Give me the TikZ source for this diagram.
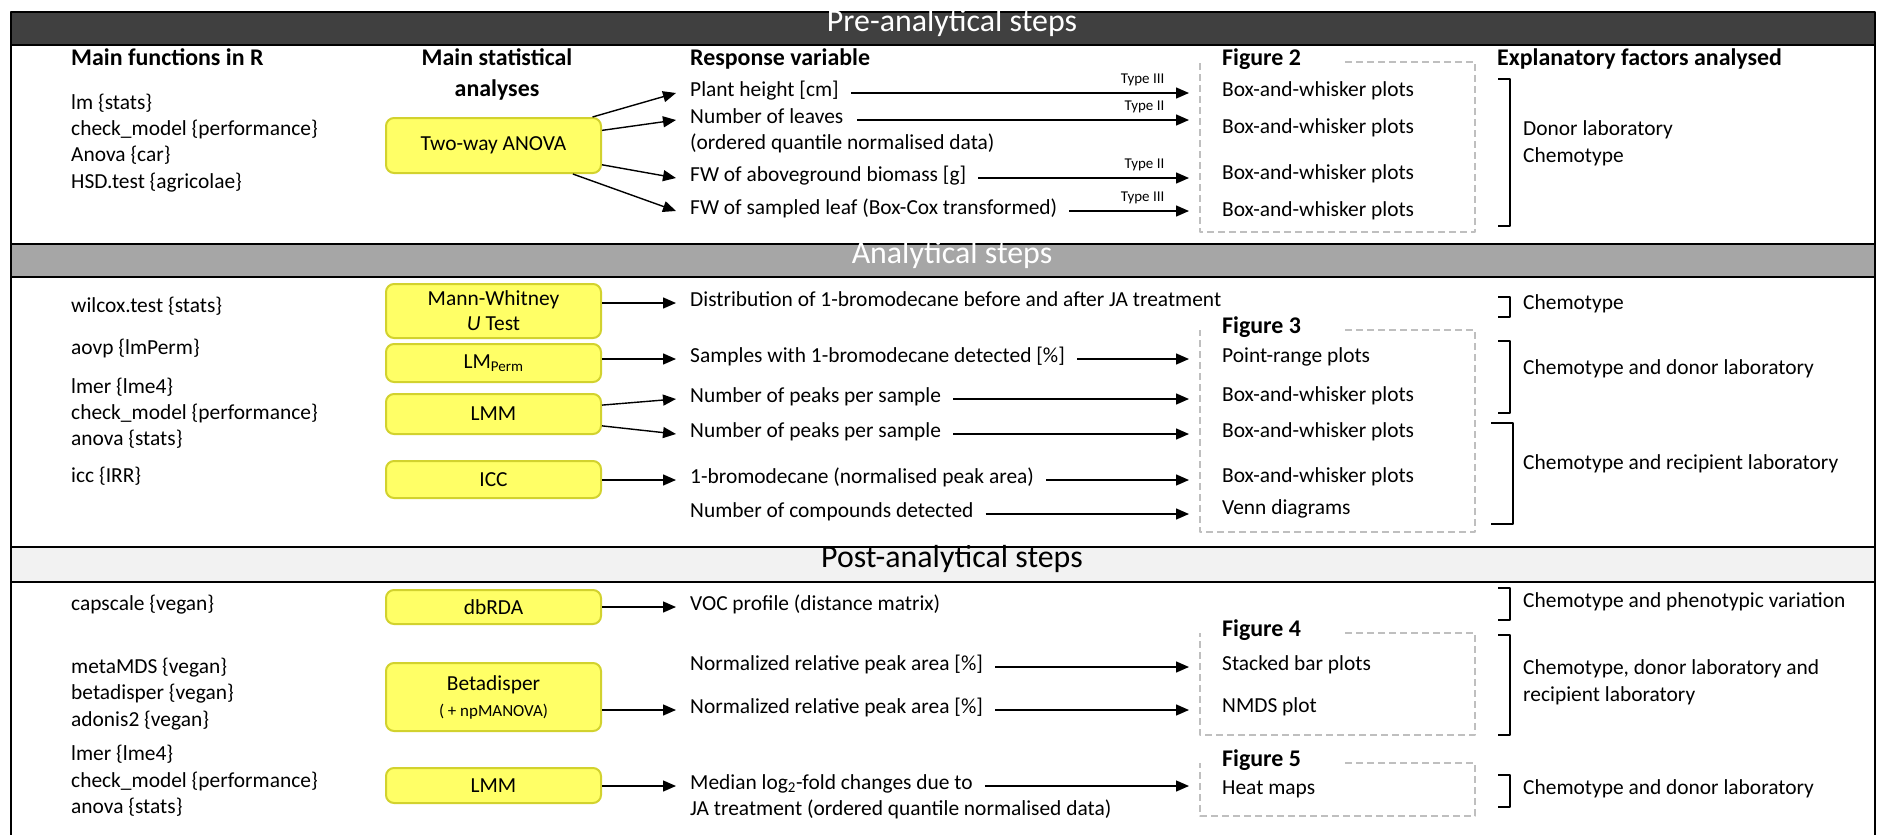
\documentclass[tikz,border=0pt]{standalone}
\usepackage{fontspec}
\setmainfont{Carlito}
\usetikzlibrary{arrows.meta}
\definecolor{bandA}{HTML}{404040}
\definecolor{bandB}{HTML}{A6A6A6}
\definecolor{bandC}{HTML}{F2F2F2}
\definecolor{boxfill}{HTML}{FFFF66}
\definecolor{boxline}{HTML}{D2D22E}
\definecolor{dashgrey}{HTML}{BFBFBF}
\begin{document}
\begin{tikzpicture}[x=1bp,y=-1bp,line join=round,
	lbl/.style={anchor=west,inner sep=0pt,text height=0.7em,text depth=0.05em,font=\fontsize{21.5}{26}\selectfont},
	hdr/.style={lbl,font=\bfseries\fontsize{24}{28}\selectfont},
	bandtitle/.style={inner sep=0pt,text height=0.7em,text depth=0.05em,font=\fontsize{32}{36}\selectfont},
	statbox/.style={draw=boxline,fill=boxfill,line width=2bp,rounded corners=8bp,minimum width=215bp,inner sep=0pt,align=center,font=\fontsize{21.5}{25}\selectfont},
	arr/.style={-{Triangle[length=13bp,width=11bp]},line width=1.4bp},
	typelab/.style={inner sep=0pt,anchor=south east,xshift=-24bp,yshift=6bp,font=\fontsize{15}{17}\selectfont},
	figbox/.style={draw=dashgrey,line width=1.8bp,dash pattern=on 7bp off 4bp},
	brack/.style={line width=2.4bp}]
	\useasboundingbox (0,0) rectangle (1878,835);
	% bands and frame
	\fill[bandA] (11,12) rectangle (1875,45);
	\fill[bandB] (11,244) rectangle (1875,277);
	\fill[bandC] (11,547) rectangle (1875,582);
	\draw[line width=2.5bp] (11,845) -- (11,12) -- (1875,12) -- (1875,845);
	\foreach \y in {45,244,277,547,582} \draw[line width=2.5bp] (11,\y) -- (1875,\y);
	\node[bandtitle,text=white] (pre) at (952,28.5) {Pre-analytical steps};
	\node[bandtitle,text=white] (ana) at (952,260.5) {Analytical steps};
	\node[bandtitle] (post) at (952,564.5) {Post-analytical steps};
	% headers
	\node[hdr] (hfun) at (71,62) {Main functions in R};
	\node[hdr,anchor=center] (hsta) at (497,62) {Main statistical};
	\node[hdr,anchor=center] (hsta2) at (497,93) {analyses};
	\node[hdr] (hres) at (690,62) {Response variable};
	\node[hdr] (hexp) at (1497,62) {Explanatory factors analysed};
	% functions in R
	\foreach \n/\y/\t in {1/106/{lm \{stats\}},2/132/{check\_model \{performance\}},3/158/{Anova \{car\}},4/185/{HSD.test \{agricolae\}},
		5/309/{wilcox.test \{stats\}},6/351/{aovp \{lmPerm\}},7/390/{lmer \{lme4\}},8/416/{check\_model \{performance\}},9/442/{anova \{stats\}},10/479/{icc \{IRR\}},
		11/607/{capscale \{vegan\}},12/670/{metaMDS \{vegan\}},13/696/{betadisper \{vegan\}},14/723/{adonis2 \{vegan\}},15/757/{lmer \{lme4\}},16/784/{check\_model \{performance\}},17/810/{anova \{stats\}}}
		\node[lbl] (fn\n) at (71,\y) {\t};
	% statistical analyses
	\node[statbox,minimum height=55bp] (twa) at (493.5,145.5) {Two-way ANOVA};
	\node[statbox,minimum height=54bp] (mwu) at (493.5,311) {Mann-Whitney\\\textit{U} Test};
	\node[statbox,minimum height=38bp] (lmp) at (493.5,363) {LM\textsubscript{Perm}};
	\node[statbox,minimum height=40bp] (lmmA) at (493.5,414) {LMM};
	\node[statbox,minimum height=37bp] (icc) at (493.5,479.5) {ICC};
	\node[statbox,minimum height=34bp] (dbrda) at (493.5,607) {dbRDA};
	\node[statbox,minimum height=68bp] (betad) at (493.5,697) {Betadisper\\[1bp]{\fontsize{17}{20}\selectfont ( + npMANOVA)}};
	\node[statbox,minimum height=35bp] (lmmB) at (493.5,785.5) {LMM};
	% response variables
	\node[lbl] (ph) at (690,93) {Plant height [cm]};
	\node[lbl] (nl) at (690,120) {Number of leaves};
	\node[lbl] (nl2) at (690,146) {(ordered quantile normalised data)};
	\node[lbl] (fwa) at (690,178) {FW of aboveground biomass [g]};
	\node[lbl] (fws) at (690,211) {FW of sampled leaf (Box-Cox transformed)};
	\node[lbl] (dist) at (690,303) {Distribution of 1-bromodecane before and after JA treatment};
	\node[lbl] (samp) at (690,359) {Samples with 1-bromodecane detected [\%]};
	\node[lbl] (np1) at (690,399) {Number of peaks per sample};
	\node[lbl] (np2) at (690,434) {Number of peaks per sample};
	\node[lbl] (brom) at (690,480) {1-bromodecane (normalised peak area)};
	\node[lbl] (ncomp) at (690,514) {Number of compounds detected};
	\node[lbl] (voc) at (690,607) {VOC profile (distance matrix)};
	\node[lbl] (nrp1) at (690,667) {Normalized relative peak area [\%]};
	\node[lbl] (nrp2) at (690,710) {Normalized relative peak area [\%]};
	\node[lbl] (med) at (690,786) {Median log\textsubscript{2}-fold changes due to};
	\node[lbl] (med2) at (690,812) {JA treatment (ordered quantile normalised data)};
	% figures
	\node[hdr] (fig2) at (1222,62) {Figure 2};
	\node[lbl] (bw1) at (1222,93) {Box-and-whisker plots};
	\node[lbl] (bw2) at (1222,130) {Box-and-whisker plots};
	\node[lbl] (bw3) at (1222,176) {Box-and-whisker plots};
	\node[lbl] (bw4) at (1222,213) {Box-and-whisker plots};
	\node[hdr] (fig3) at (1222,330) {Figure 3};
	\node[lbl] (pr) at (1222,359) {Point-range plots};
	\node[lbl] (bw5) at (1222,398) {Box-and-whisker plots};
	\node[lbl] (bw6) at (1222,434) {Box-and-whisker plots};
	\node[lbl] (bw7) at (1222,479) {Box-and-whisker plots};
	\node[lbl] (venn) at (1222,511) {Venn diagrams};
	\node[hdr] (fig4) at (1222,633) {Figure 4};
	\node[lbl] (sbar) at (1222,667) {Stacked bar plots};
	\node[lbl] (nmds) at (1222,709) {NMDS plot};
	\node[hdr] (fig5) at (1222,763) {Figure 5};
	\node[lbl] (heat) at (1222,791) {Heat maps};
	\draw[figbox] ([xshift=44bp]fig2.east) -| (1475,232) -| ([xshift=-22bp]fig2.west);
	\draw[figbox] ([xshift=44bp]fig3.east) -| (1475,532) -| ([xshift=-22bp]fig3.west);
	\draw[figbox] ([xshift=44bp]fig4.east) -| (1475,735) -| ([xshift=-22bp]fig4.west);
	\draw[figbox] ([xshift=44bp]fig5.east) -| (1475,816) -| ([xshift=-22bp]fig5.west);
	\coordinate (fend) at (1189,0);
	% explanatory factors
	\node[lbl] (ex1) at (1523,132) {Donor laboratory};
	\node[lbl] (ex2) at (1523,159) {Chemotype};
	\node[lbl] (ex3) at (1523,306) {Chemotype};
	\node[lbl] (ex4) at (1523,371) {Chemotype and donor laboratory};
	\node[lbl] (ex5) at (1523,466) {Chemotype and recipient laboratory};
	\node[lbl] (ex6) at (1523,604) {Chemotype and phenotypic variation};
	\node[lbl] (ex7) at (1523,671) {Chemotype, donor laboratory and};
	\node[lbl] (ex8) at (1523,698) {recipient laboratory};
	\node[lbl] (ex9) at (1523,791) {Chemotype and donor laboratory};
	\draw[brack] (1498,79) -| (1510,226) -- (1498,226);
	\draw[brack] (1498,297) -| (1510,317) -- (1498,317);
	\draw[brack] (1498,341) -| (1510,413) -- (1498,413);
	\draw[brack] (1491,423) -| (1513,524) -- (1491,524);
	\draw[brack] (1498,588) -| (1510,620) -- (1498,620);
	\draw[brack] (1498,635) -| (1510,735) -- (1498,735);
	\draw[brack] (1498,775) -| (1510,807) -- (1498,807);
	% analyses to response variables
	\draw[arr] (twa) -- ([xshift=-14bp]ph.west);
	\draw[arr] (twa) -- ([xshift=-14bp]nl.west);
	\draw[arr] (twa) -- ([xshift=-14bp]fwa.west);
	\draw[arr] (twa) -- ([xshift=-14bp]fws.west);
	\draw[arr] (mwu.east |- dist.west) -- ([xshift=-14bp]dist.west);
	\draw[arr] (lmp.east |- samp.west) -- ([xshift=-14bp]samp.west);
	\draw[arr] (lmmA) -- ([xshift=-14bp]np1.west);
	\draw[arr] (lmmA) -- ([xshift=-14bp]np2.west);
	\draw[arr] (icc.east |- brom.west) -- ([xshift=-14bp]brom.west);
	\draw[arr] (dbrda.east |- voc.west) -- ([xshift=-14bp]voc.west);
	\draw[arr] (betad.east |- nrp2.west) -- ([xshift=-14bp]nrp2.west);
	\draw[arr] (lmmB.east |- med.west) -- ([xshift=-14bp]med.west);
	% response variables to figures
	\draw[arr] ([xshift=12bp]ph.east) -- (ph.east -| fend) node[typelab] (t1) {Type III};
	\draw[arr] ([xshift=14bp]nl.east) -- (nl.east -| fend) node[typelab] (t2) {Type II};
	\draw[arr] ([xshift=12bp]fwa.east) -- (fwa.east -| fend) node[typelab] (t3) {Type II};
	\draw[arr] ([xshift=12bp]fws.east) -- (fws.east -| fend) node[typelab] (t4) {Type III};
	\foreach \r in {samp,np1,np2,brom,ncomp,nrp1,nrp2,med}
		\draw[arr] ([xshift=12bp]\r.east) -- (\r.east -| fend);
\end{tikzpicture}
\end{document}
